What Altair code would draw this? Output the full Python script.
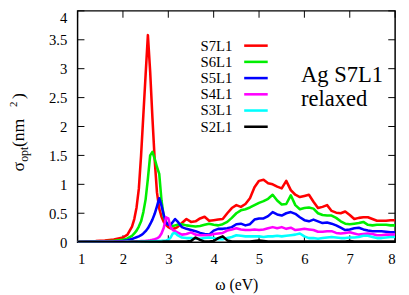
import altair as alt
import pandas as pd

# ---------------- data ----------------
omega = [1.0, 1.2, 1.4, 1.6, 1.8, 2.0, 2.1, 2.2,
         2.25, 2.3, 2.35, 2.4, 2.45, 2.5, 2.55, 2.6, 2.65, 2.7,
         2.75, 2.8, 2.85, 2.9, 2.95, 3.0, 3.05, 3.1, 3.15, 3.2,
         3.3, 3.4, 3.5, 3.6, 3.7, 3.8, 3.9, 4.0, 4.1, 4.2,
         4.3, 4.4, 4.5, 4.6, 4.7, 4.8, 4.9, 5.0, 5.1, 5.2,
         5.3, 5.4, 5.5, 5.6, 5.7, 5.8, 5.9, 6.0, 6.1, 6.2,
         6.3, 6.4, 6.5, 6.6, 6.7, 6.8, 6.9, 7.0, 7.1, 7.2,
         7.3, 7.4, 7.5, 7.6, 7.7, 7.8, 7.9, 8.0]

s7l1 = [0.01, 0.015, 0.02, 0.03, 0.045, 0.08, 0.13, 0.27,
        0.40, 0.60, 0.92, 1.50, 2.20, 2.90, 3.58, 2.95, 2.15, 1.42,
        0.86, 0.58, 0.44, 0.35, 0.30, 0.26, 0.24, 0.23, 0.24, 0.26,
        0.33, 0.40, 0.35, 0.36, 0.41, 0.44, 0.37, 0.38, 0.39, 0.40,
        0.50, 0.59, 0.64, 0.61, 0.66, 0.76, 0.95, 1.06, 1.08, 1.02,
        1.00, 0.96, 0.93, 1.06, 0.90, 0.82, 0.78, 0.80, 0.82, 0.70,
        0.59, 0.61, 0.64, 0.54, 0.51, 0.50, 0.53, 0.47, 0.40, 0.42,
        0.43, 0.43, 0.40, 0.37, 0.37, 0.37, 0.38, 0.38]

s6l1 = [0.005, 0.008, 0.01, 0.015, 0.025, 0.04, 0.065, 0.11,
        0.15, 0.20, 0.27, 0.36, 0.52, 0.74, 1.10, 1.50, 1.56, 1.44,
        1.30, 1.18, 0.72, 0.44, 0.35, 0.30, 0.29, 0.28, 0.29, 0.30,
        0.31, 0.29, 0.28, 0.27, 0.28, 0.30, 0.32, 0.30, 0.29, 0.31,
        0.35, 0.42, 0.50, 0.55, 0.57, 0.60, 0.64, 0.68, 0.71, 0.75,
        0.82, 0.72, 0.65, 0.66, 0.81, 0.64, 0.57, 0.59, 0.60, 0.58,
        0.50, 0.47, 0.46, 0.46, 0.42, 0.36, 0.32, 0.31, 0.32, 0.33,
        0.35, 0.30, 0.29, 0.30, 0.30, 0.30, 0.29, 0.29]

s5l1 = [0.003, 0.005, 0.006, 0.008, 0.012, 0.02, 0.035, 0.055,
        0.07, 0.085, 0.10, 0.12, 0.15, 0.19, 0.24, 0.31, 0.39, 0.49,
        0.62, 0.76, 0.63, 0.47, 0.34, 0.30, 0.30, 0.35, 0.40, 0.36,
        0.26, 0.23, 0.21, 0.19, 0.16, 0.14, 0.13, 0.20, 0.23, 0.23,
        0.24, 0.26, 0.31, 0.32, 0.29, 0.31, 0.39, 0.41, 0.41, 0.45,
        0.52, 0.48, 0.46, 0.50, 0.52, 0.49, 0.43, 0.38, 0.36, 0.39,
        0.36, 0.33, 0.34, 0.32, 0.29, 0.25, 0.21, 0.22, 0.24, 0.25,
        0.22, 0.20, 0.19, 0.19, 0.19, 0.18, 0.17, 0.17]

s4l1 = [0.002, 0.003, 0.004, 0.005, 0.006, 0.008, 0.01, 0.012,
        0.013, 0.015, 0.017, 0.019, 0.021, 0.024, 0.028, 0.033, 0.04, 0.05,
        0.065, 0.09, 0.15, 0.25, 0.43, 0.41, 0.26, 0.21, 0.19, 0.17,
        0.13, 0.14, 0.17, 0.13, 0.12, 0.12, 0.12, 0.14, 0.15, 0.16,
        0.20, 0.22, 0.24, 0.22, 0.21, 0.21, 0.22, 0.21, 0.22, 0.24,
        0.26, 0.24, 0.26, 0.23, 0.25, 0.21, 0.22, 0.23, 0.22, 0.21,
        0.18, 0.18, 0.19, 0.19, 0.16, 0.15, 0.16, 0.17, 0.15, 0.13,
        0.14, 0.15, 0.14, 0.12, 0.12, 0.13, 0.13, 0.13]

s3l1 = [0.001, 0.001, 0.002, 0.002, 0.003, 0.004, 0.005, 0.006,
        0.007, 0.008, 0.009, 0.01, 0.011, 0.012, 0.013, 0.014, 0.015, 0.016,
        0.018, 0.02, 0.022, 0.025, 0.03, 0.04, 0.08, 0.15, 0.16, 0.12,
        0.08, 0.07, 0.07, 0.06, 0.06, 0.07, 0.08, 0.07, 0.05, 0.05,
        0.07, 0.09, 0.12, 0.11, 0.10, 0.10, 0.10, 0.10, 0.09, 0.10,
        0.10, 0.11, 0.10, 0.11, 0.12, 0.13, 0.15, 0.10, 0.07, 0.07,
        0.06, 0.07, 0.08, 0.09, 0.08, 0.07, 0.07, 0.08, 0.08, 0.09,
        0.11, 0.11, 0.09, 0.07, 0.07, 0.08, 0.09, 0.09]

s2l1 = [0.002, 0.002, 0.002, 0.003, 0.003, 0.004, 0.004, 0.005,
        0.005, 0.005, 0.006, 0.006, 0.006, 0.006, 0.007, 0.007, 0.007, 0.007,
        0.008, 0.008, 0.008, 0.009, 0.009, 0.01, 0.01, 0.01, 0.01, 0.01,
        0.01, 0.01, 0.02, 0.08, 0.04, 0.01, 0.01, 0.02, 0.07, 0.10,
        0.03, 0.01, 0.01, 0.01, 0.01, 0.01, 0.02, 0.03, 0.02, 0.01,
        0.01, 0.01, 0.01, 0.01, 0.01, 0.01, 0.01, 0.01, 0.01, 0.01,
        0.01, 0.01, 0.01, 0.01, 0.01, 0.01, 0.01, 0.02, 0.01, 0.01,
        0.01, 0.01, 0.01, 0.01, 0.01, 0.01, 0.01, 0.01]

series_names = ["S7L1", "S6L1", "S5L1", "S4L1", "S3L1", "S2L1"]
series_values = [s7l1, s6l1, s5l1, s4l1, s3l1, s2l1]
series_colors = ["#ff0000", "#00ee00", "#0000ff", "#ff00ff", "#00ffff", "#000000"]

x_ticks = [1, 2, 3, 4, 5, 6, 7, 8]
y_ticks = [0, 0.5, 1, 1.5, 2, 2.5, 3, 3.5, 4]

annotation_lines = ["Ag S7L1", "relaxed"]

# ---------------- layout / style ----------------
W, H = 324, 236
FONT = "Liberation Serif"
TICK_LEN = 7

rows = []
for name, vals in zip(series_names, series_values):
    for xv, yv in zip(omega, vals):
        rows.append({"omega": xv, "sigma": yv, "series": name})
df = pd.DataFrame(rows)

xscale = alt.Scale(domain=[1, 8], nice=False, zero=False)
yscale = alt.Scale(domain=[0, 4], nice=False)
cscale = alt.Scale(domain=series_names, range=series_colors)

x_axis = alt.Axis(values=x_ticks, format="d", title="ω (eV)", ticks=False,
                  domain=False, grid=False, labelPadding=10, titlePadding=10,
                  labelFont=FONT, titleFont=FONT,
                  labelFontSize=15, titleFontSize=16, titleFontWeight="normal",
                  labelColor="black", titleColor="black")
y_axis = alt.Axis(values=y_ticks, format=".1~f", title=None, ticks=False,
                  domain=False, grid=False, labelPadding=11,
                  labelFont=FONT, labelFontSize=15, labelColor="black",
                  labelBaseline={"condition": {"test": "datum.value == 4", "value": "top"},
                                 "value": "middle"})

X = alt.X("omega:Q", scale=xscale, axis=x_axis)
Y = alt.Y("sigma:Q", scale=yscale, axis=y_axis)

layers = []

# inward ticks on all four sides
xt = pd.DataFrame({"omega": x_ticks})
yt = pd.DataFrame({"sigma": y_ticks})
tick_style = dict(color="black", strokeWidth=1)
layers.append(alt.Chart(xt).mark_rule(**tick_style).encode(
    x=X, y=alt.value(H), y2=alt.value(H - TICK_LEN)))
layers.append(alt.Chart(xt).mark_rule(**tick_style).encode(
    x=X, y=alt.value(0), y2=alt.value(TICK_LEN)))
layers.append(alt.Chart(yt).mark_rule(**tick_style).encode(
    y=Y, x=alt.value(0), x2=alt.value(TICK_LEN)))
layers.append(alt.Chart(yt).mark_rule(**tick_style).encode(
    y=Y, x=alt.value(W - TICK_LEN), x2=alt.value(W)))

# the curves, first series drawn first (underneath)
for name in series_names:
    layers.append(
        alt.Chart(df).transform_filter(alt.datum.series == name)
        .mark_line(strokeWidth=2.6, clip=True, strokeJoin="round")
        .encode(x=X, y=Y,
                color=alt.Color("series:N", scale=cscale, legend=None))
    )

# hand-made legend: label on the left, line sample on the right
LEG_Y0, LEG_DY = 35.5, 16.55
LEG_TEXT_X, LEG_LINE_X0, LEG_LINE_X1 = 158, 170, 194
for i, name in enumerate(series_names):
    one = pd.DataFrame({"series": [name]})
    ly = LEG_Y0 + i * LEG_DY
    layers.append(alt.Chart(one).mark_text(
        align="right", baseline="middle", font=FONT, fontSize=15, color="black"
    ).encode(text="series:N", x=alt.value(LEG_TEXT_X), y=alt.value(ly)))
    layers.append(alt.Chart(one).mark_rule(strokeWidth=2.6).encode(
        x=alt.value(LEG_LINE_X0), x2=alt.value(LEG_LINE_X1), y=alt.value(ly),
        color=alt.Color("series:N", scale=cscale, legend=None)))

# annotation
for i, t in enumerate(annotation_lines):
    layers.append(alt.Chart(pd.DataFrame({"t": [t]})).mark_text(
        align="left", baseline="alphabetic", font=FONT, fontSize=23, color="black"
    ).encode(text="t:N", x=alt.value(228), y=alt.value(73 + i * 24)))

# rotated y-axis title: sigma_opt (nm^2)
title_parts = [
    ("σ", 18, -55, 164),
    ("opt", 12, -51, 154),
    ("(nm", 18, -55, 139),
    ("2", 11, -62, 98),
    (")", 18, -55, 90),
]
for txt, fs, tx, ty in title_parts:
    layers.append(alt.Chart(pd.DataFrame({"t": [txt]})).mark_text(
        align="left", baseline="alphabetic", angle=270, font=FONT,
        fontSize=fs, color="black"
    ).encode(text="t:N", x=alt.value(tx), y=alt.value(ty)))

chart = alt.layer(*layers).properties(
    width=W, height=H,
    autosize=alt.AutoSizeParams(type="none"),
    padding={"left": 71, "top": 0, "right": 6, "bottom": 51},
).configure_view(stroke="black", strokeWidth=1.5)

chart.save("out.html", embed_options={"renderer": "svg", "actions": False})
